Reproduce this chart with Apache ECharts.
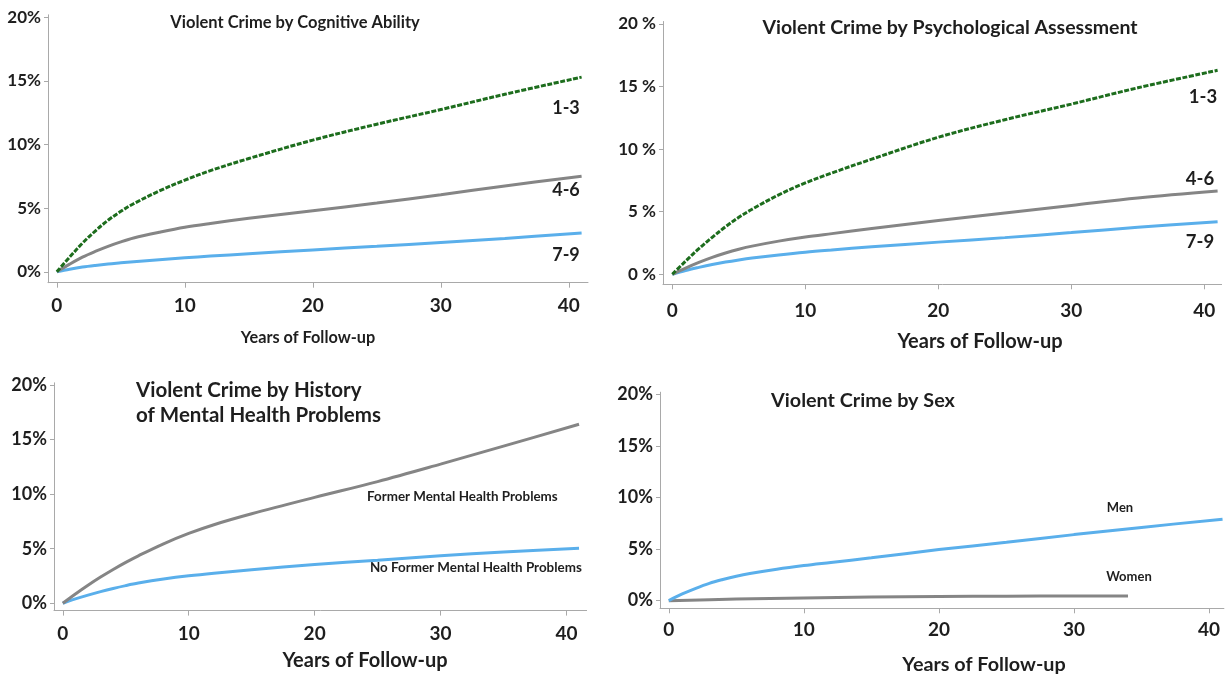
<!DOCTYPE html>
<html>
<head>
<meta charset="utf-8">
<script src="https://cdn.jsdelivr.net/npm/echarts@6/dist/echarts.min.js"></script>
<style>
  html, body { margin: 0; padding: 0; background: #ffffff; }
  #chart { width: 1227px; height: 676px; }
</style>
</head>
<body>
<div id="chart"></div>
<script>
// Cumulative share (%) committing violent crime, by years of follow-up
const years = [0, 1, 2, 3, 4, 5, 6, 8, 10, 12, 15, 20, 25, 30, 35, 41];
const yearsWomen = [0, 5, 10, 15, 20, 25, 30, 34];
const xTicks = [0, 10, 20, 30, 40];
const yTicks = [0, 5, 10, 15, 20];

// Cognitive ability (stanine groups)
const cogLow  = [0, 1.15, 2.25, 3.2, 4.05, 4.75, 5.35, 6.35, 7.2, 7.95, 8.9, 10.35, 11.6, 12.75, 13.95, 15.3];
const cogMid  = [0, 0.6, 1.15, 1.6, 2.0, 2.35, 2.65, 3.1, 3.5, 3.8, 4.2, 4.8, 5.4, 6.05, 6.75, 7.5];
const cogHigh = [0, 0.2, 0.37, 0.5, 0.61, 0.7, 0.79, 0.95, 1.1, 1.23, 1.42, 1.72, 2.0, 2.3, 2.62, 3.05];

// Psychological assessment (stanine groups)
const psyLow  = [0, 1.05, 2.05, 2.95, 3.8, 4.55, 5.2, 6.35, 7.3, 8.1, 9.2, 10.95, 12.35, 13.6, 14.9, 16.3];
const psyMid  = [0, 0.5, 0.95, 1.35, 1.7, 2.0, 2.25, 2.65, 2.98, 3.25, 3.65, 4.3, 4.9, 5.5, 6.1, 6.65];
const psyHigh = [0, 0.3, 0.55, 0.78, 0.98, 1.15, 1.3, 1.55, 1.77, 1.95, 2.2, 2.57, 2.93, 3.33, 3.75, 4.2];

// History of mental health problems
const mhFormer = [0, 0.85, 1.65, 2.4, 3.1, 3.75, 4.35, 5.45, 6.4, 7.2, 8.2, 9.7, 11.15, 12.75, 14.4, 16.4];
const mhNone   = [0, 0.4, 0.75, 1.07, 1.36, 1.62, 1.85, 2.22, 2.52, 2.76, 3.07, 3.55, 3.95, 4.35, 4.7, 5.05];

// Sex
const men   = [0, 0.65, 1.2, 1.68, 2.05, 2.37, 2.63, 3.05, 3.4, 3.7, 4.15, 4.95, 5.65, 6.4, 7.1, 7.9];
const women = [0, 0.15, 0.27, 0.35, 0.4, 0.43, 0.45, 0.46];

const GREEN = '#1d6d1d';
const GREY = '#858585';
const BLUE = '#5aafeb';
const AXIS = '#a9a9a9';
const INK = '#1e1e1e';
const FONT = 'Lato, "Open Sans", sans-serif';

const pairs = (xs, ys) => xs.map((x, i) => [x, ys[i]]);

// Panel frames: grid box plus axis extents (axes meet at the lower-left corner)
const panels = [
  { left: 48,  top: 14.8,  width: 540,   height: 267.9, xMin: -0.69, xMax: 41.5, yMin: -0.86, yMax: 20.2, fmt: '{value}%',  xMargin: 14, yFont: 17 },
  { left: 663, top: 21.5,  width: 558.6, height: 262.8, xMin: -0.7,  xMax: 41.3, yMin: -0.8,  yMax: 20.2, fmt: '{value} %', xMargin: 17, yFont: 17 },
  { left: 54,  top: 382.8, width: 532.6, height: 227.8, xMin: -0.7,  xMax: 41.6, yMin: -0.67, yMax: 20.2, fmt: '{value}%',  xMargin: 14, yFont: 18 },
  { left: 660, top: 392.2, width: 563.9, height: 216.1, xMin: -0.65, xMax: 41.1, yMin: -0.74, yMax: 20.2, fmt: '{value}%',  xMargin: 12, yFont: 18 }
];

const grid = panels.map(p => ({ left: p.left, top: p.top, width: p.width, height: p.height }));

const xAxis = panels.map((p, i) => ({
  type: 'value', gridIndex: i, min: p.xMin, max: p.xMax,
  splitLine: { show: false },
  axisLine: { show: true, onZero: false, lineStyle: { color: AXIS, width: 1 } },
  axisTick: { show: true, length: 5, lineStyle: { color: AXIS }, customValues: xTicks },
  axisLabel: { customValues: xTicks, margin: p.xMargin, color: INK, fontSize: 19, fontWeight: 'bold', fontFamily: FONT }
}));

const yAxis = panels.map((p, i) => ({
  type: 'value', gridIndex: i, min: p.yMin, max: p.yMax,
  splitLine: { show: false },
  axisLine: { show: true, onZero: false, lineStyle: { color: AXIS, width: 1 } },
  axisTick: { show: true, length: 4, lineStyle: { color: AXIS }, customValues: yTicks },
  axisLabel: { customValues: yTicks, formatter: p.fmt, margin: 7, color: INK, fontSize: p.yFont, fontWeight: 'bold', fontFamily: FONT }
}));

function line(name, idx, xs, ys, color, dashed) {
  return {
    name, type: 'line', xAxisIndex: idx, yAxisIndex: idx,
    data: pairs(xs, ys), smooth: 0.35, symbol: 'none', silent: true,
    lineStyle: { color, width: 3, type: dashed ? [5, 1.6] : 'solid', cap: 'butt' }
  };
}

const series = [
  line('7-9', 0, years, cogHigh, BLUE),
  line('4-6', 0, years, cogMid, GREY),
  line('1-3', 0, years, cogLow, GREEN, true),
  line('7-9', 1, years, psyHigh, BLUE),
  line('4-6', 1, years, psyMid, GREY),
  line('1-3', 1, years, psyLow, GREEN, true),
  line('No Former Mental Health Problems', 2, years, mhNone, BLUE),
  line('Former Mental Health Problems', 2, years, mhFormer, GREY),
  line('Women', 3, yearsWomen, women, GREY),
  line('Men', 3, years, men, BLUE)
];

function txt(text, x, y, size, align, weight) {
  return {
    type: 'text', silent: true,
    style: {
      text, x, y, fill: INK, align: align || 'center', verticalAlign: 'middle',
      font: (weight || 'bold') + ' ' + size + 'px ' + FONT
    }
  };
}

const graphic = [
  // titles
  txt('Violent Crime by Cognitive Ability', 295, 23, 16.5),
  txt('Violent Crime by Psychological Assessment', 950, 28, 19.5),
  txt('Violent Crime by History', 136, 390, 20.5, 'left'),
  txt('of Mental Health Problems', 136, 415, 20.5, 'left'),
  txt('Violent Crime by Sex', 771, 401, 19.8, 'left'),
  // x-axis names
  txt('Years of Follow-up', 308, 338, 16.3),
  txt('Years of Follow-up', 980, 342, 20),
  txt('Years of Follow-up', 365, 661, 20),
  txt('Years of Follow-up', 984, 665, 19.8),
  // series labels
  txt('1-3', 566, 108, 18),
  txt('4-6', 566, 190, 18),
  txt('7-9', 566, 255, 18),
  txt('1-3', 1203, 97, 18.5),
  txt('4-6', 1200, 179, 18.5),
  txt('7-9', 1200, 242, 18.5),
  txt('Former Mental Health Problems', 367, 497, 13.4, 'left'),
  txt('No Former Mental Health Problems', 370, 568, 13.4, 'left'),
  txt('Men', 1120, 508, 13),
  txt('Women', 1129, 577, 13)
];

const chart = echarts.init(document.getElementById('chart'), null, { renderer: 'canvas' });
chart.setOption({
  animation: false,
  backgroundColor: '#ffffff',
  textStyle: { fontFamily: FONT },
  grid, xAxis, yAxis, series, graphic
});
</script>
</body>
</html>
